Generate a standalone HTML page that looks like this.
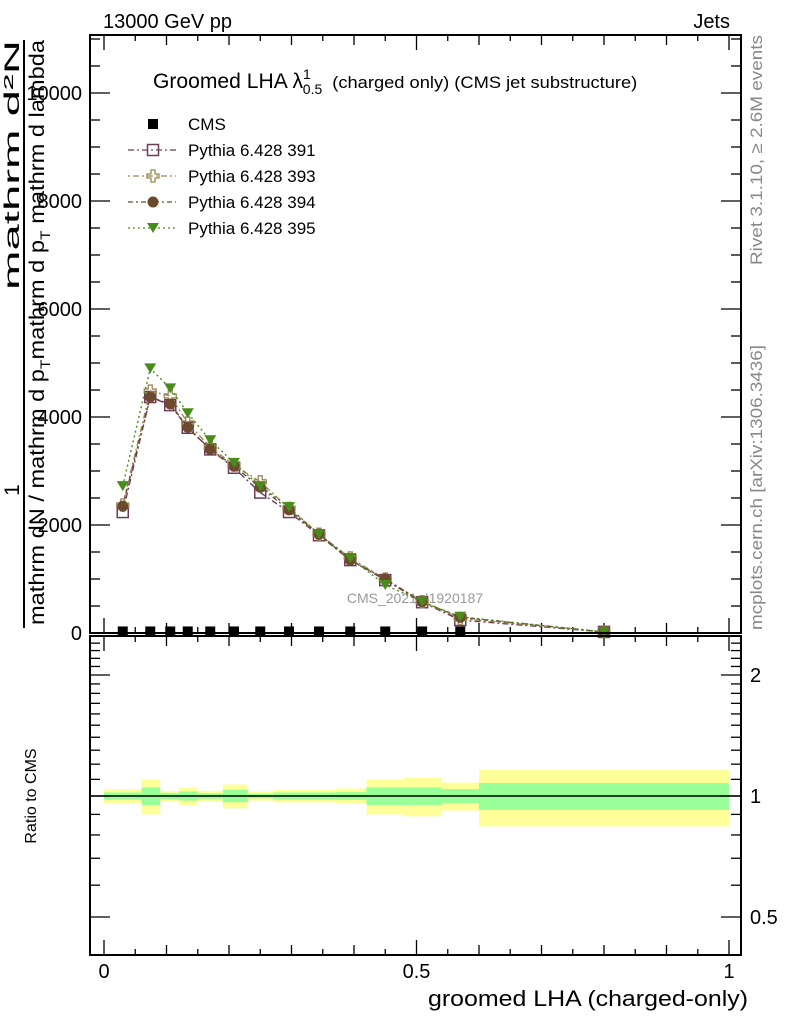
<!DOCTYPE html>
<html><head><meta charset="utf-8"><style>
html,body{margin:0;padding:0;background:#fff}
svg{display:block;font-family:"Liberation Sans",sans-serif}
</style></head><body>
<svg id="c" width="786" height="1024" viewBox="0 0 786 1024">
<text x="103" y="28" font-size="20">13000 GeV pp</text>
<text x="730" y="28" font-size="20" text-anchor="end">Jets</text>
<text x="153" y="88" font-size="21"><tspan textLength="150" lengthAdjust="spacingAndGlyphs">Groomed LHA λ</tspan><tspan font-size="14" dy="-9">1</tspan><tspan font-size="14" dx="-8" dy="15">0.5</tspan><tspan font-size="17" dx="10" dy="-6" textLength="305" lengthAdjust="spacingAndGlyphs">(charged only) (CMS jet substructure)</tspan></text>
<g font-size="21">
<text transform="translate(19,165) rotate(-90)" text-anchor="middle" textLength="250" lengthAdjust="spacingAndGlyphs">mathrm d²N</text>
<text transform="translate(19,490) rotate(-90)" text-anchor="middle">1</text>
<line x1="24" y1="40" x2="24" y2="628" stroke="#000" stroke-width="2"/>
<text transform="translate(44,625) rotate(-90)" textLength="585" lengthAdjust="spacingAndGlyphs">mathrm dN / mathrm d p<tspan font-size="14" dy="6">T</tspan><tspan dy="-6">mathrm d p</tspan><tspan font-size="14" dy="6">T</tspan><tspan dy="-6"> mathrm d lambda</tspan></text>
</g>
<text transform="translate(762,265) rotate(-90)" font-size="17" fill="#888" textLength="230" lengthAdjust="spacingAndGlyphs">Rivet 3.1.10, ≥ 2.6M events</text>
<text transform="translate(762,630) rotate(-90)" font-size="17" fill="#888" textLength="285" lengthAdjust="spacingAndGlyphs">mcplots.cern.ch [arXiv:1306.3436]</text>
<text x="415" y="603" font-size="14" fill="#999" text-anchor="middle">CMS_2021_I1920187</text>
<text transform="translate(36,796) rotate(-90)" font-size="16" text-anchor="middle">Ratio to CMS</text>
<text x="748" y="1006" font-size="22" text-anchor="end" textLength="320" lengthAdjust="spacingAndGlyphs">groomed LHA (charged-only)</text>
<g id="bands"></g>
<g id="ticks"></g>
<g id="series"></g>
<g id="legend"></g>
<rect x="90" y="35" width="651" height="598" fill="none" stroke="#000" stroke-width="2"/>
<rect x="90" y="636" width="651" height="319" fill="none" stroke="#000" stroke-width="2"/>
</svg>
<script>
const binEdges=[0,0.06,0.09,0.12,0.15,0.19,0.23,0.27,0.32,0.37,0.42,0.48,0.54,0.6,1.0];
const xCenters=[0.03,0.074,0.106,0.134,0.17,0.208,0.25,0.296,0.344,0.394,0.45,0.509,0.57,0.8];
const cms=[10,10,10,10,10,10,10,10,10,10,10,10,10,10];
const p391=[2240,4370,4220,3800,3400,3060,2600,2240,1810,1350,980,570,240,20];
const p393=[2370,4480,4390,3890,3440,3110,2800,2310,1830,1390,1000,580,270,20];
const p394=[2350,4370,4240,3810,3400,3090,2700,2280,1830,1350,1000,580,290,20];
const p395=[2720,4900,4530,4070,3570,3150,2720,2330,1830,1390,890,580,300,20];
const statErr=[0.02,0.05,0.018,0.026,0.016,0.035,0.013,0.02,0.02,0.022,0.05,0.05,0.04,0.077];
const totErr=[0.04,0.1,0.03,0.05,0.03,0.068,0.026,0.036,0.036,0.044,0.1,0.11,0.08,0.16];
const yTickVals=[0,2000,4000,6000,8000,10000];
const ratioTickLabels=[0.5,1,2];

const NS="http://www.w3.org/2000/svg";
const X=v=>104+v*625;
const Y=v=>633-v*0.054;
const R=v=>796-Math.log(v)*174.6;
function mk(tag,attrs,parent){const e=document.createElementNS(NS,tag);for(const k in attrs)e.setAttribute(k,attrs[k]);parent.appendChild(e);return e;}
const bands=document.getElementById('bands'),ticks=document.getElementById('ticks'),series=document.getElementById('series'),legend=document.getElementById('legend');

for(let i=0;i<binEdges.length-1;i++){
  const x0=X(binEdges[i]),x1=X(binEdges[i+1]);
  const y=mk('rect',{x:x0,y:R(1+totErr[i]),width:x1-x0,height:R(1-totErr[i])-R(1+totErr[i]),fill:'#ffff99'},bands);
  
  
  const g=mk('rect',{x:x0,y:R(1+statErr[i]),width:x1-x0,height:R(1-statErr[i])-R(1+statErr[i]),fill:'#99ff99'},bands);
  
  
}
const one=mk('line',{x1:90,x2:741,y1:R(1),y2:R(1),stroke:'#000','stroke-width':1.5},bands);



for(let k=0;k<=20;k++){
  const v=k*0.05,x=X(v);
  const len=(k%10===0)?15:(k%2===0?10:6);
  mk('line',{x1:x,x2:x,y1:633,y2:633-len,stroke:'#000','stroke-width':1.3},ticks);
  mk('line',{x1:x,x2:x,y1:35,y2:35+len,stroke:'#000','stroke-width':1.3},ticks);
  mk('line',{x1:x,x2:x,y1:955,y2:955-len,stroke:'#000','stroke-width':1.3},ticks);
  mk('line',{x1:x,x2:x,y1:636,y2:636+len,stroke:'#000','stroke-width':1.3},ticks);
}
[[0,'0'],[0.5,'0.5'],[1,'1']].forEach(([v,t])=>{const e=mk('text',{x:X(v),y:978,'font-size':20,'text-anchor':'middle'},ticks);e.textContent=t;});
for(let v=0;v<=11000;v+=500){
  const y=Y(v),len=(v%2000===0)?20:10;
  mk('line',{x1:90,x2:90+len,y1:y,y2:y,stroke:'#000','stroke-width':1.3},ticks);
  mk('line',{x1:741,x2:741-len,y1:y,y2:y,stroke:'#000','stroke-width':1.3},ticks);
}
yTickVals.forEach(v=>{const e=mk('text',{x:82,y:Y(v)+7,'font-size':20,'text-anchor':'end'},ticks);e.textContent=String(v);});
const rt=[0.4,0.5,0.6,0.7,0.8,0.9,1,1.1,1.2,1.3,1.4,1.5,1.6,1.7,1.8,1.9,2,2.1,2.2,2.3,2.4,2.5];
rt.forEach(v=>{const y=R(v);if(y<636||y>955)return;const len=ratioTickLabels.includes(v)?20:10;
  mk('line',{x1:90,x2:90+len,y1:y,y2:y,stroke:'#000','stroke-width':1.3},ticks);
  mk('line',{x1:741,x2:741-len,y1:y,y2:y,stroke:'#000','stroke-width':1.3},ticks);});
ratioTickLabels.forEach(v=>{const e=mk('text',{x:750,y:R(v)+7,'font-size':20},ticks);e.textContent=String(v);});

function marker(type,x,y,color,parent){
  let e;
  if(type==='sq')e=mk('rect',{x:x-5.5,y:y-5.5,width:11,height:11,fill:'none',stroke:color,'stroke-width':1.5},parent);
  else if(type==='cross')e=mk('path',{d:`M${x-2},${y-6}h4v4h4v4h-4v4h-4v-4h-4v-4h4z`,fill:'none',stroke:color,'stroke-width':1.3},parent);
  else if(type==='circ')e=mk('circle',{cx:x,cy:y,r:5.5,fill:color},parent);
  else if(type==='tri')e=mk('path',{d:`M${x-6},${y-5}h12l-6,10z`,fill:color},parent);
  else e=mk('rect',{x:x-5,y:y-5,width:10,height:10,fill:color},parent);
  return e;
}
const cg=mk('g',{},series);


xCenters.forEach((v,i)=>{const m=marker('fill',X(v),Y(cms[i])-1,'#000',cg);
  
  });

const defs=[
 {name:'pythia-391',data:p391,color:'#6e3b58',dash:'6,3,2,3',marker:'sq'},
 {name:'pythia-393',data:p393,color:'#9a8a55',dash:'2,3,6,3',marker:'cross'},
 {name:'pythia-394',data:p394,color:'#6b4a2e',dash:'5,3,2,3',marker:'circ'},
 {name:'pythia-395',data:p395,color:'#4a8c1c',dash:'2,3',marker:'tri'}];
defs.forEach(d=>{
  const g=mk('g',{},series);
  
  
  const pts=xCenters.map((v,i)=>X(v)+','+Y(d.data[i])).join(' ');
  mk('polyline',{points:pts,fill:'none',stroke:d.color,'stroke-width':1.4,'stroke-dasharray':d.dash},g);
  xCenters.forEach((v,i)=>{const m=marker(d.marker,X(v),Y(d.data[i]),d.color,g);
    
    });
});

const legRows=[['CMS','#000','fill',null],['Pythia 6.428 391','#6e3b58','sq','6,3,2,3'],['Pythia 6.428 393','#9a8a55','cross','2,3,6,3'],['Pythia 6.428 394','#6b4a2e','circ','5,3,2,3'],['Pythia 6.428 395','#4a8c1c','tri','2,3']];
legRows.forEach((r,i)=>{
  const y=124+i*26;
  const g=mk('g',{},legend);
  
  
  if(r[3])mk('line',{x1:128,x2:176,y1:y,y2:y,stroke:r[1],'stroke-width':1.3,'stroke-dasharray':r[3]},g);
  marker(r[2],153,y,r[1],g);
  const t=mk('text',{x:188,y:y+6,'font-size':17},g);t.textContent=r[0];
});
</script>
</body></html>
